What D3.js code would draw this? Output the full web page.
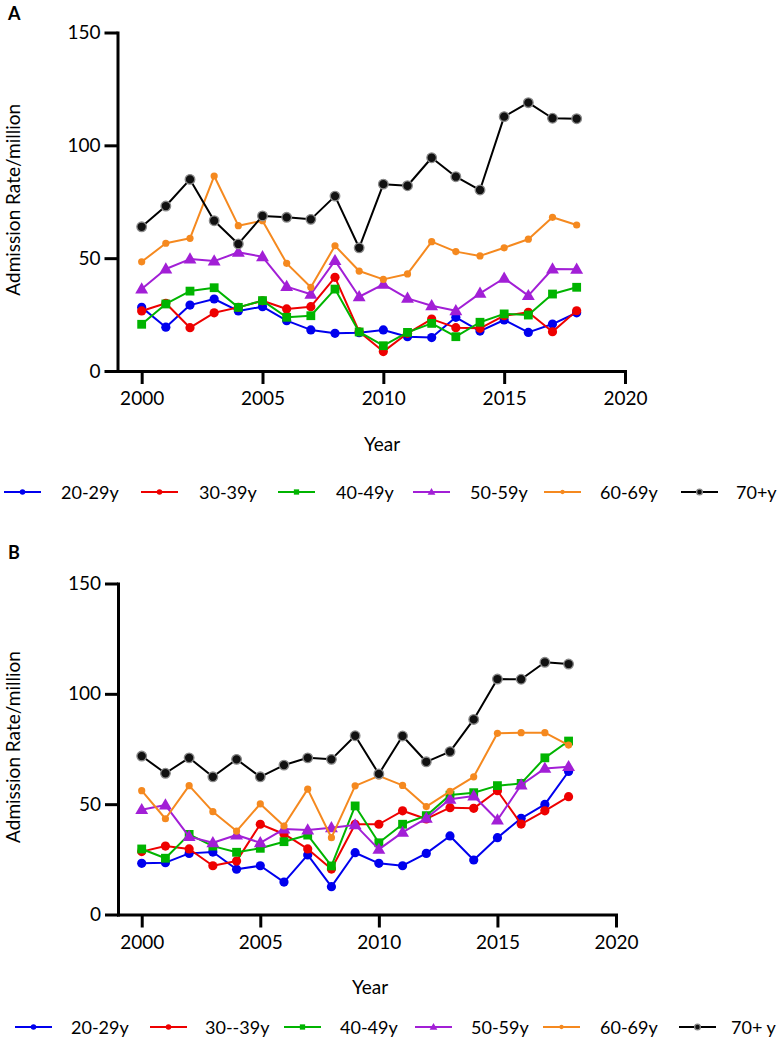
<!DOCTYPE html>
<html>
<head>
<meta charset="utf-8">
<script src="https://cdn.jsdelivr.net/npm/d3@7"></script>
<style>
  body { margin: 0; background: #fff; }
  svg { display: block; font-family: Lato, "Open Sans", sans-serif; }
</style>
</head>
<body>
<svg id="chart" width="777" height="1044"></svg>
<script>
// Years shared by both panels
const years = d3.range(2000, 2019);
const xTicks = [2000, 2005, 2010, 2015, 2020];
const yTicks = [0, 50, 100, 150];

// Panel A values (admission rate per million)
const a20 = [28.2, 19.4, 29.2, 31.9, 26.6, 28.5, 22.3, 18.2, 16.7, 17.0, 18.2, 15.2, 14.8, 23.8, 17.7, 22.6, 17.1, 20.8, 25.8];
const a30 = [26.6, 30.0, 19.2, 25.8, 28.2, 31.1, 27.5, 28.5, 41.5, 17.4, 8.6, 16.7, 23.0, 19.2, 18.9, 24.5, 26.0, 17.4, 26.7];
const a40 = [20.7, 29.7, 35.4, 36.9, 28.2, 31.2, 23.8, 24.5, 36.3, 17.3, 11.2, 17.1, 21.1, 15.2, 21.6, 25.3, 24.8, 34.1, 37.1];
const a50 = [36.3, 45.2, 49.6, 48.7, 52.6, 50.6, 37.4, 34.0, 48.9, 32.9, 38.4, 32.2, 28.9, 26.7, 34.4, 41.1, 33.4, 45.2, 45.1];
const a60 = [48.4, 56.6, 58.8, 86.4, 64.4, 66.6, 47.7, 37.1, 55.5, 44.3, 40.6, 43.0, 57.3, 52.9, 51.0, 54.6, 58.4, 68.1, 64.7];
const a70 = [63.9, 73.1, 84.9, 66.6, 56.3, 68.7, 68.1, 67.2, 77.5, 54.6, 82.8, 82.1, 94.5, 86.1, 80.2, 112.7, 118.9, 112.0, 111.8];

// Panel B values
const b20 = [23.2, 23.5, 27.7, 28.3, 20.5, 22.1, 14.7, 27.0, 12.6, 28.0, 23.2, 22.1, 27.7, 35.6, 24.7, 34.8, 43.6, 49.9, 64.8];
const b30 = [28.5, 31.0, 29.7, 22.1, 24.2, 40.9, 36.5, 29.7, 20.6, 40.9, 40.9, 47.0, 43.3, 48.4, 48.1, 56.1, 41.0, 47.0, 53.4];
const b40 = [29.7, 25.5, 36.3, 31.0, 28.2, 30.0, 33.0, 36.0, 22.0, 49.2, 32.5, 40.9, 44.8, 54.1, 55.2, 58.4, 59.4, 71.0, 78.6];
const b50 = [47.5, 49.6, 35.3, 32.5, 36.0, 32.5, 38.7, 38.3, 39.3, 40.6, 29.5, 37.2, 43.6, 52.2, 53.7, 42.8, 58.7, 66.2, 67.0];
const b60 = [56.1, 43.4, 58.4, 46.6, 37.8, 50.1, 40.1, 56.8, 34.8, 58.3, 62.8, 58.5, 48.9, 55.8, 62.4, 82.1, 82.4, 82.4, 76.8];
const b70 = [71.8, 64.0, 71.0, 62.4, 70.3, 62.4, 67.7, 71.0, 70.3, 81.0, 63.7, 80.9, 69.2, 73.8, 88.4, 106.7, 106.6, 114.3, 113.5];

const labelsA = ["20-29y", "30-39y", "40-49y", "50-59y", "60-69y", "70+y"];
const labelsB = ["20-29y", "30--39y", "40-49y", "50-59y", "60-69y", "70+ y"];

// Styles per age group
const styles = [
    {color: "#0000ee", shape: "circle", r: 4.6},
    {color: "#ee0000", shape: "circle", r: 4.6},
    {color: "#00b400", shape: "square", r: 4.4},
    {color: "#a21fd6", shape: "triangle", r: 4.6},
    {color: "#f5891f", shape: "circle", r: 3.6},
    {color: "#000000", shape: "ring", r: 4.8}
];

const svg = d3.select("#chart");

const panels = [
    {
        letter: "A", letterY: 20, series: [a20, a30, a40, a50, a60, a70], labels: labelsA,
        x0: 117.5, x1: 625, yTop: 32.5, yBottom: 371,
        yearX: 382, yearY: 451, legendY: 492,
        legendLine: [4, 141, 278, 413, 544, 681], legendText: [61, 199, 336, 470, 600, 736]
    },
    {
        letter: "B", letterY: 559, series: [b20, b30, b40, b50, b60, b70], labels: labelsB,
        x0: 118, x1: 616, yTop: 583.5, yBottom: 914.5,
        yearX: 370, yearY: 994, legendY: 1027,
        legendLine: [15, 150, 284, 415, 543, 679], legendText: [71, 205, 340, 471, 600, 731]
    }
];

function drawMarker(sel, st, cx, cy, scale) {
    const r = st.r * scale;
    if (st.shape === "square") {
        sel.append("rect")
            .attr("x", cx - r).attr("y", cy - r)
            .attr("width", 2 * r).attr("height", 2 * r)
            .attr("fill", st.color);
    } else if (st.shape === "triangle") {
        const sym = d3.symbol().type(d3.symbolTriangle).size(r * r * 3.4);
        sel.append("path")
            .attr("d", sym())
            .attr("transform", `translate(${cx},${cy + r * 0.15})`)
            .attr("fill", st.color);
    } else if (st.shape === "ring") {
        sel.append("circle")
            .attr("cx", cx).attr("cy", cy).attr("r", r)
            .attr("fill", "#111")
            .attr("stroke", "#8a8a8a")
            .attr("stroke-width", 1.3);
    } else {
        sel.append("circle")
            .attr("cx", cx).attr("cy", cy).attr("r", r)
            .attr("fill", st.color);
    }
}

panels.forEach(p => {
    const x = d3.scaleLinear().domain([1999, 2020]).range([p.x0, p.x1]);
    const y = d3.scaleLinear().domain([0, 150]).range([p.yBottom, p.yTop]);

    const g = svg.append("g");

    // Panel letter
    g.append("text")
        .attr("x", 8).attr("y", p.letterY)
        .attr("font-weight", "bold")
        .attr("font-size", "18px")
        .text(p.letter);

    // Axes
    const yAxis = g.append("g")
        .attr("transform", `translate(${p.x0},0)`)
        .call(d3.axisLeft(y).tickValues(yTicks).tickSize(13).tickSizeOuter(0).tickPadding(4));

    const xAxis = g.append("g")
        .attr("transform", `translate(0,${p.yBottom})`)
        .call(d3.axisBottom(x).tickValues(xTicks).tickFormat(d3.format("d")).tickSize(13).tickSizeOuter(0).tickPadding(8));

    [yAxis, xAxis].forEach(a => {
        a.select(".domain").attr("stroke", "#000").attr("stroke-width", 3).attr("stroke-linecap", "square");
        a.selectAll(".tick line").attr("stroke", "#000").attr("stroke-width", 3);
        a.selectAll(".tick text")
            .attr("font-family", "Lato, 'Open Sans', sans-serif")
            .attr("font-size", "19px")
            .attr("fill", "#000");
    });

    // Axis titles
    g.append("text")
        .attr("transform", `translate(20,${(p.yTop + p.yBottom) / 2 - 2}) rotate(-90)`)
        .attr("text-anchor", "middle")
        .attr("font-size", "19px")
        .text("Admission Rate/million");

    g.append("text")
        .attr("x", p.yearX).attr("y", p.yearY)
        .attr("text-anchor", "middle")
        .attr("font-size", "19px")
        .text("Year");

    // Series
    const line = d3.line()
        .x((d, i) => x(years[i]))
        .y(d => y(d));

    p.series.forEach((vals, k) => {
        const st = styles[k];
        g.append("path")
            .datum(vals)
            .attr("d", line)
            .attr("fill", "none")
            .attr("stroke", st.color)
            .attr("stroke-width", 2)
            .attr("stroke-linejoin", "round");
        const mg = g.append("g");
        vals.forEach((v, i) => drawMarker(mg, st, x(years[i]), y(v), 1));
    });

    // Legend
    p.labels.forEach((lab, k) => {
        const st = styles[k];
        const lx = p.legendLine[k];
        g.append("line")
            .attr("x1", lx).attr("x2", lx + 37)
            .attr("y1", p.legendY).attr("y2", p.legendY)
            .attr("stroke", st.color)
            .attr("stroke-width", 2);
        drawMarker(g, st, lx + 18.5, p.legendY, 0.6);
        g.append("text")
            .attr("x", p.legendText[k]).attr("y", p.legendY + 6.5)
            .attr("font-size", "18px")
            .text(lab);
    });
});
</script>
</body>
</html>
